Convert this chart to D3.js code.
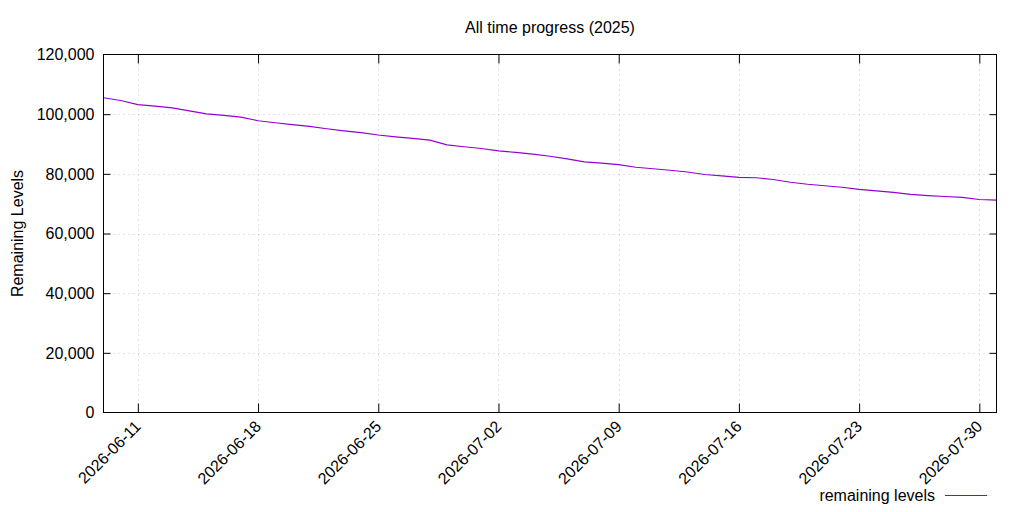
<!DOCTYPE html>
<html>
<head>
<meta charset="utf-8">
<script src="https://cdn.jsdelivr.net/npm/d3@7"></script>
<style>
  body { margin: 0; background: #fff; }
  text { font-family: "Liberation Sans", Arial, sans-serif; fill: #000; }
</style>
</head>
<body>
<div id="chart"></div>
<script>
// daily remaining levels, first value is 2026-06-09
const startDate = "2026-06-09";
const endDate = "2026-07-31";
const remaining = [
  105500, 104600, 103200, 102700, 102100, 101100, 100100, 99600, 99000, 97800,
  97100, 96500, 95900, 95100, 94400, 93800, 93000, 92400, 91900, 91300,
  89700, 89100, 88500, 87700, 87200, 86600, 85900, 85000, 84000, 83600,
  83100, 82200, 81700, 81200, 80600, 79800, 79300, 78800, 78700, 78100,
  77200, 76500, 76000, 75500, 74800, 74300, 73800, 73100, 72700, 72400,
  72100, 71400, 71200
];
const xTickLabels = ["2026-06-11", "2026-06-18", "2026-06-25", "2026-07-02",
  "2026-07-09", "2026-07-16", "2026-07-23", "2026-07-30"];
const yTicks = [0, 20000, 40000, 60000, 80000, 100000, 120000];
const title = "All time progress (2025)";
const yLabel = "Remaining Levels";
const seriesName = "remaining levels";

const width = 1024, height = 512;
const plotLeft = 103.5, plotRight = 996.5, plotTop = 54.5, plotBottom = 412.5;
const lineColor = "#9400d3";

const parse = d3.utcParse("%Y-%m-%d");
const start = parse(startDate);
const data = remaining.map((v, i) => ({ date: d3.utcDay.offset(start, i), value: v }));

const svg = d3.select("#chart")
  .append("svg")
  .attr("width", width)
  .attr("height", height);

const x = d3.scaleUtc()
  .domain([start, parse(endDate)])
  .range([plotLeft, plotRight]);

const y = d3.scaleLinear()
  .domain([0, 120000])
  .range([plotBottom, plotTop]);

const xTicks = xTickLabels.map(parse);

// grid
const grid = svg.append("g")
  .attr("stroke", "#c4c4c4")
  .attr("stroke-width", 1)
  .attr("stroke-dasharray", "1,4");

grid.selectAll(".gx")
  .data(xTicks)
  .enter()
  .append("line")
  .attr("x1", d => Math.round(x(d)) + 0.5)
  .attr("x2", d => Math.round(x(d)) + 0.5)
  .attr("y1", plotTop)
  .attr("y2", plotBottom);

grid.selectAll(".gy")
  .data(yTicks.slice(1, -1))
  .enter()
  .append("line")
  .attr("x1", plotLeft)
  .attr("x2", plotRight)
  .attr("y1", d => Math.round(y(d)) + 0.5)
  .attr("y2", d => Math.round(y(d)) + 0.5);

// the data line
const line = d3.line()
  .x(d => x(d.date))
  .y(d => y(d.value));

svg.append("path")
  .datum(data)
  .attr("fill", "none")
  .attr("stroke", lineColor)
  .attr("stroke-width", 1.1)
  .attr("d", line);

// frame and ticks (inward, mirrored)
svg.append("rect")
  .attr("x", plotLeft)
  .attr("y", plotTop)
  .attr("width", plotRight - plotLeft)
  .attr("height", plotBottom - plotTop)
  .attr("fill", "none")
  .attr("stroke", "#000")
  .attr("stroke-width", 1);

svg.append("g")
  .attr("transform", `translate(0,${plotBottom})`)
  .call(d3.axisBottom(x).tickValues(xTicks).tickSizeInner(-9).tickSizeOuter(0).tickFormat(""))
  .call(g => g.select(".domain").remove());

svg.append("g")
  .attr("transform", `translate(0,${plotTop})`)
  .call(d3.axisTop(x).tickValues(xTicks).tickSizeInner(-9).tickSizeOuter(0).tickFormat(""))
  .call(g => g.select(".domain").remove());

svg.append("g")
  .attr("transform", `translate(${plotLeft},0)`)
  .call(d3.axisLeft(y).tickValues(yTicks.slice(1, -1)).tickSizeInner(-7).tickSizeOuter(0).tickFormat(""))
  .call(g => g.select(".domain").remove());

svg.append("g")
  .attr("transform", `translate(${plotRight},0)`)
  .call(d3.axisRight(y).tickValues(yTicks.slice(1, -1)).tickSizeInner(-7).tickSizeOuter(0).tickFormat(""))
  .call(g => g.select(".domain").remove());

// y tick labels
const fmt = d3.format(",");
svg.selectAll(".ylab")
  .data(yTicks)
  .enter()
  .append("text")
  .attr("x", plotLeft - 9)
  .attr("y", d => y(d))
  .attr("dy", "0.36em")
  .attr("text-anchor", "end")
  .style("font-size", "16px")
  .text(d => fmt(d));

// x tick labels, rotated
svg.selectAll(".xlab")
  .data(xTicks)
  .enter()
  .append("text")
  .attr("transform", d => `translate(${x(d) + 4},${plotBottom + 15}) rotate(-45)`)
  .attr("text-anchor", "end")
  .style("font-size", "16px")
  .text((d, i) => xTickLabels[i]);

// title
svg.append("text")
  .attr("x", (plotLeft + plotRight) / 2)
  .attr("y", 33)
  .attr("text-anchor", "middle")
  .style("font-size", "16px")
  .text(title);

// y axis label
svg.append("text")
  .attr("transform", `translate(23,${(plotTop + plotBottom) / 2}) rotate(-90)`)
  .attr("text-anchor", "middle")
  .style("font-size", "16px")
  .text(yLabel);

// legend
svg.append("text")
  .attr("x", 935)
  .attr("y", 501)
  .attr("text-anchor", "end")
  .style("font-size", "16px")
  .text(seriesName);

svg.append("line")
  .attr("x1", 945)
  .attr("x2", 987)
  .attr("y1", 495.5)
  .attr("y2", 495.5)
  .attr("stroke", lineColor)
  .attr("stroke-width", 1.1);
</script>
</body>
</html>
